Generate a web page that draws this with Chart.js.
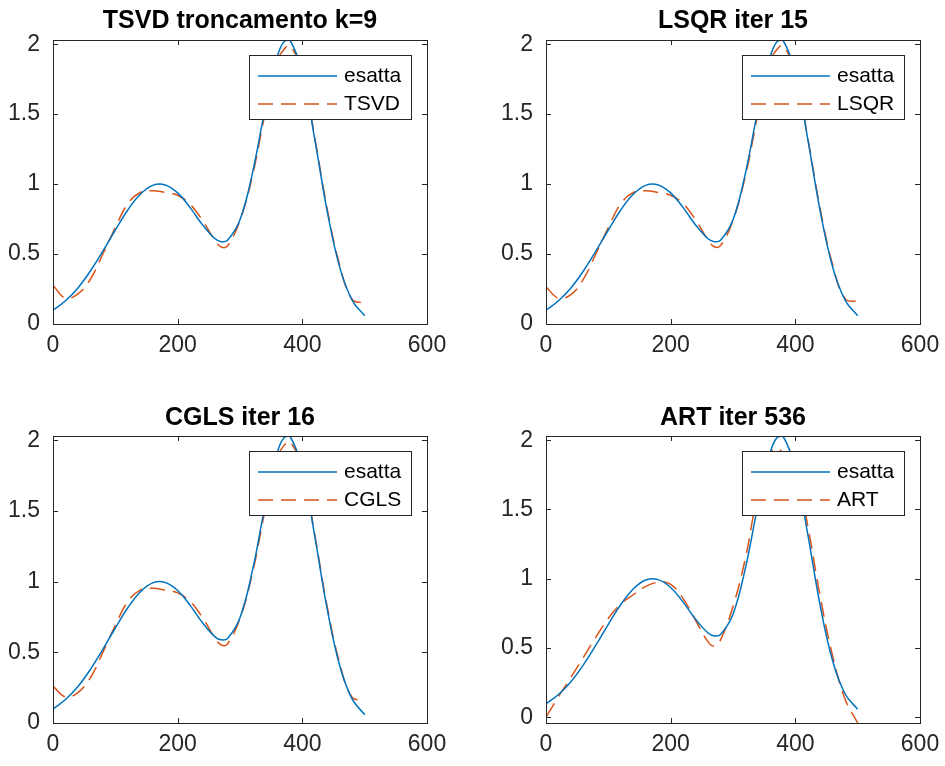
<!DOCTYPE html>
<html>
<head>
<meta charset="utf-8">
<script src="https://cdn.jsdelivr.net/npm/chart.js@4.4.1/dist/chart.umd.min.js"></script>
<style>
  html, body { margin: 0; padding: 0; background: #fff; }
  body { width: 945px; height: 766px; position: relative; overflow: hidden; }
  canvas { position: absolute; }
</style>
</head>
<body>
<canvas id="c1" width="472" height="383" style="left:0;top:0"></canvas>
<canvas id="c2" width="490" height="383" style="left:472px;top:0"></canvas>
<canvas id="c3" width="472" height="383" style="left:0;top:383px"></canvas>
<canvas id="c4" width="490" height="383" style="left:472px;top:383px"></canvas>
<script>
// sample positions (index of the solution vector)
const xs     = [1, 20, 40, 60, 80, 100, 120, 140, 160, 180, 200, 220, 240, 260, 270, 280, 300, 320, 340, 360, 370, 380, 400, 420, 440, 460, 480, 500];
const esatta = [0.102, 0.166, 0.258, 0.379, 0.521, 0.672, 0.815, 0.927, 0.991, 0.994, 0.937, 0.832, 0.708, 0.609, 0.588, 0.598, 0.745, 1.079, 1.530, 1.914, 2.015, 2.030, 1.796, 1.320, 0.804, 0.405, 0.169, 0.059];
const tsvd   = [0.27, 0.185, 0.215, 0.32, 0.50, 0.69, 0.86, 0.94, 0.953, 0.94, 0.92, 0.855, 0.74, 0.595, 0.55, 0.558, 0.74, 1.06, 1.50, 1.88, 1.96, 1.99, 1.80, 1.33, 0.82, 0.42, 0.175, 0.15];
const lsqr   = [0.26, 0.185, 0.21, 0.32, 0.50, 0.69, 0.86, 0.94, 0.953, 0.94, 0.92, 0.86, 0.745, 0.60, 0.552, 0.56, 0.74, 1.06, 1.50, 1.88, 1.96, 1.99, 1.80, 1.33, 0.82, 0.42, 0.18, 0.16];
const cgls   = [0.255, 0.185, 0.215, 0.32, 0.50, 0.69, 0.86, 0.94, 0.953, 0.94, 0.92, 0.86, 0.745, 0.60, 0.552, 0.56, 0.74, 1.06, 1.50, 1.88, 1.96, 1.99, 1.80, 1.33, 0.82, 0.42, 0.18, 0.17];
const art    = [0.01, 0.15, 0.29, 0.434, 0.58, 0.715, 0.82, 0.885, 0.945, 0.975, 0.96, 0.857, 0.70, 0.545, 0.515, 0.56, 0.80, 1.15, 1.62, 1.91, 1.94, 1.91, 1.82, 1.38, 0.87, 0.44, 0.13, -0.04];

const xTicks = [0, 200, 400, 600];
const yTicks = [0, 0.5, 1, 1.5, 2];

const FONT = "'Liberation Sans', Arial, Helvetica, sans-serif";
const AXIS = '#262626';
const BLUE = '#0072BD';
const ORANGE = '#D95319';

const pts = ys => xs.map((x, i) => ({ x, y: ys[i] }));

// matlab style: box, inward ticks on all sides, legend in the top right corner
const matlabBox = {
  id: 'matlabBox',
  afterDatasetsDraw(chart) {
    const { ctx, chartArea: a, scales: { x, y } } = chart;
    ctx.save();
    ctx.strokeStyle = AXIS;
    ctx.lineWidth = 1;
    ctx.beginPath();
    xTicks.forEach(v => {
      const px = Math.round(x.getPixelForValue(v)) + 0.5;
      ctx.moveTo(px, a.bottom); ctx.lineTo(px, a.bottom - 5);
      ctx.moveTo(px, a.top); ctx.lineTo(px, a.top + 5);
    });
    yTicks.forEach(v => {
      const py = Math.round(y.getPixelForValue(v)) + 0.5;
      ctx.moveTo(a.left, py); ctx.lineTo(a.left + 5, py);
      ctx.moveTo(a.right, py); ctx.lineTo(a.right - 5, py);
    });
    ctx.stroke();
    ctx.strokeRect(Math.round(a.left) + 0.5, Math.round(a.top) + 0.5, Math.round(a.right - a.left), Math.round(a.bottom - a.top));

    const w = 162, h = 64;
    const lx = Math.round(a.right - 16 - w), ly = Math.round(a.top + 15);
    ctx.fillStyle = '#fff';
    ctx.fillRect(lx, ly, w, h);
    ctx.strokeRect(lx + 0.5, ly + 0.5, w, h);
    ctx.font = '21px ' + FONT;
    ctx.textBaseline = 'middle';
    chart.data.datasets.forEach((ds, i) => {
      const cy = ly + 21 + i * 28;
      ctx.strokeStyle = ds.borderColor;
      ctx.lineWidth = ds.borderWidth;
      ctx.setLineDash(ds.borderDash || []);
      ctx.beginPath();
      ctx.moveTo(lx + 9, cy); ctx.lineTo(lx + 88, cy);
      ctx.stroke();
      ctx.setLineDash([]);
      ctx.fillStyle = '#000';
      ctx.fillText(ds.label, lx + 95, cy);
    });
    ctx.restore();
  }
};

function makeChart(id, title, name, ys, yMin, p) {
  return new Chart(document.getElementById(id), {
    type: 'line',
    data: {
      datasets: [
        { label: 'esatta', data: pts(esatta), borderColor: BLUE, borderWidth: 1.5, pointRadius: 0, tension: 0.4 },
        { label: name, data: pts(ys), borderColor: ORANGE, borderWidth: 1.5, borderDash: [15, 8], pointRadius: 0, tension: 0.4 }
      ]
    },
    options: {
      responsive: false,
      animation: false,
      devicePixelRatio: 1,
      layout: { padding: { left: 0, right: p.right, top: 0, bottom: 0 } },
      plugins: {
        legend: { display: false },
        tooltip: { enabled: false },
        title: {
          display: true, text: title, color: '#000', fullSize: false,
          font: { family: FONT, size: 25, weight: 'bold', lineHeight: 1 },
          padding: { top: p.tTop, bottom: p.tBot }
        }
      },
      scales: {
        x: {
          type: 'linear', min: 0, max: 600,
          grid: { display: false, drawTicks: false },
          border: { display: false },
          afterBuildTicks: s => { s.ticks = xTicks.map(v => ({ value: v })); },
          afterFit: s => { s.height = p.xh; },
          ticks: { color: AXIS, font: { family: FONT, size: 23 }, padding: 8, maxRotation: 0, autoSkip: false, callback: v => String(v) }
        },
        y: {
          type: 'linear', min: yMin, max: 2.03,
          grid: { display: false, drawTicks: false },
          border: { display: false },
          afterBuildTicks: s => { s.ticks = yTicks.map(v => ({ value: v })); },
          afterFit: s => { s.width = p.yw; },
          ticks: { color: AXIS, font: { family: FONT, size: 23 }, padding: 13, autoSkip: false, callback: v => String(v) }
        }
      }
    },
    plugins: [matlabBox]
  });
}

makeChart('c1', 'TSVD troncamento k=9', 'TSVD', tsvd, 0, { right: 45, yw: 53, xh: 59, tTop: 9, tBot: 6 });
makeChart('c2', 'LSQR iter 15', 'LSQR', lsqr, 0, { right: 42, yw: 74, xh: 59, tTop: 9, tBot: 6 });
makeChart('c3', 'CGLS iter 16', 'CGLS', cgls, 0, { right: 45, yw: 53, xh: 43, tTop: 22.5, tBot: 5.5 });
makeChart('c4', 'ART iter 536', 'ART', art, -0.04, { right: 42, yw: 74, xh: 43, tTop: 22.5, tBot: 5.5 });
</script>
</body>
</html>
